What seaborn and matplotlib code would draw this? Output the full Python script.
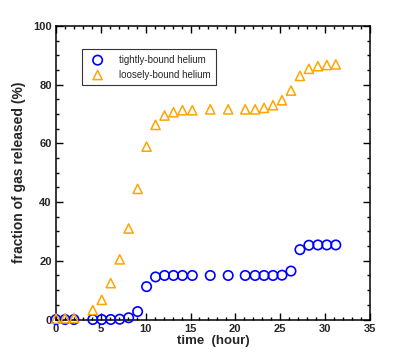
import matplotlib
matplotlib.use("Agg")
import matplotlib.pyplot as plt
import seaborn as sns
import pandas as pd
from matplotlib.ticker import MultipleLocator

# data
time_tight = [0, 1, 2, 4.1, 5.1, 6.1, 7.1, 8.1, 9.1, 10.1, 11.1, 12.1, 13.1, 14.1, 15.2,
              17.2, 19.2, 21.1, 22.2, 23.2, 24.2, 25.2, 26.2, 27.2, 28.2, 29.2, 30.2, 31.2]
tight = [0, 0, 0, 0, 0, 0, 0.1, 0.6, 2.7, 11.2, 14.5, 15.0, 15.0, 15.0, 15.0,
         15.0, 15.0, 15.0, 15.0, 15.0, 15.0, 15.1, 16.5, 23.8, 25.3, 25.4, 25.4, 25.4]
time_loose = [0, 1, 2, 4.1, 5.1, 6.1, 7.1, 8.1, 9.1, 10.1, 11.1, 12.1, 13.1, 14.1, 15.2,
              17.2, 19.2, 21.1, 22.2, 23.2, 24.2, 25.2, 26.2, 27.2, 28.2, 29.2, 30.2, 31.2]
loose = [0.3, 0.4, 0.5, 3.2, 6.7, 12.4, 20.5, 31.0, 44.5, 58.9, 66.3, 69.5, 70.6, 71.3, 71.3,
         71.6, 71.6, 71.6, 71.6, 72.1, 73.0, 74.7, 78.0, 83.0, 85.4, 86.3, 86.7, 86.9]
labels = ["tightly-bound helium", "loosely-bound helium"]

sns.set_style("ticks")
plt.rcParams['font.family'] = ['Liberation Sans', 'DejaVu Sans']

fig = plt.figure(figsize=(3.99, 3.55), dpi=100)
ax = fig.add_axes([0.1404, 0.1, 0.7866, 0.8268])

df_t = pd.DataFrame({"t": time_tight, "v": tight})
df_l = pd.DataFrame({"t": time_loose, "v": loose})

sns.scatterplot(data=df_t, x="t", y="v", ax=ax, marker="o", s=46,
                facecolor="none", edgecolor="#0000ff", linewidth=1.2,
                label=labels[0], clip_on=False, zorder=3)
sns.scatterplot(data=df_l, x="t", y="v", ax=ax, marker="^", s=44,
                facecolor="none", edgecolor="#ffa500", linewidth=1.1,
                label=labels[1], clip_on=False, zorder=3)

ax.set_xlim(0, 35)
ax.set_ylim(0, 100)
ax.xaxis.set_major_locator(MultipleLocator(5))
ax.xaxis.set_minor_locator(MultipleLocator(1))
ax.yaxis.set_major_locator(MultipleLocator(20))
ax.yaxis.set_minor_locator(MultipleLocator(5))
ax.tick_params(which="both", direction="in", top=True, right=True, width=1.0,
               color="black")
ax.tick_params(which="major", length=5, labelsize=8, pad=3)
ax.tick_params(which="minor", length=2.5)
for lab in ax.get_xticklabels() + ax.get_yticklabels():
    lab.set_fontweight("bold")
for sp in ax.spines.values():
    sp.set_visible(True)
    sp.set_linewidth(1.1)
    sp.set_color("black")

ax.set_xlabel("time  (hour)", fontsize=9.5, fontweight="bold", labelpad=1)
ax.set_ylabel("fraction of gas released (%)", fontsize=10, fontweight="bold", labelpad=5)

leg = ax.legend(loc="upper left", bbox_to_anchor=(0.083, 0.922), fontsize=7,
                frameon=True, fancybox=False, shadow=False, borderpad=0.6,
                handletextpad=1.2, labelspacing=0.5, borderaxespad=0)
leg.get_frame().set_edgecolor("black")
leg.get_frame().set_linewidth(0.8)

fig.savefig("out.png", dpi=100)
